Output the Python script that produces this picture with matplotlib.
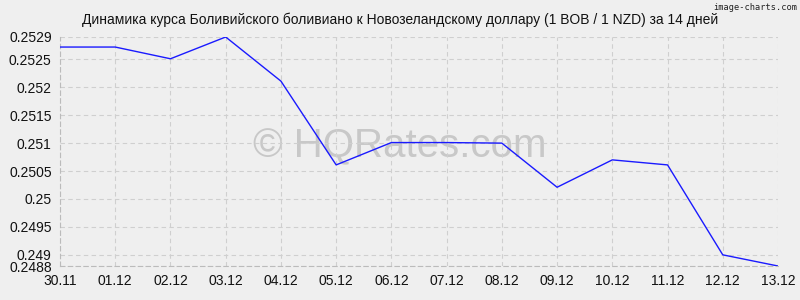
import matplotlib
matplotlib.use("Agg")
import matplotlib.pyplot as plt

plt.rcParams['font.family'] = ['Liberation Sans', 'DejaVu Sans']

dates = ["30.11", "01.12", "02.12", "03.12", "04.12", "05.12", "06.12",
         "07.12", "08.12", "09.12", "10.12", "11.12", "12.12", "13.12"]
rates = [0.25272, 0.25272, 0.25251, 0.2529, 0.25211, 0.25061, 0.25101,
         0.25101, 0.25100, 0.25021, 0.2507, 0.25061, 0.2490, 0.2488]
yticks = [0.2488, 0.249, 0.2495, 0.25, 0.2505, 0.251, 0.2515, 0.252, 0.2525, 0.2529]
ylabels = ["0.2488", "0.249", "0.2495", "0.25", "0.2505", "0.251", "0.2515",
           "0.252", "0.2525", "0.2529"]

bg = "#efefef"
fig = plt.figure(figsize=(8, 3), dpi=100, facecolor=bg)
ax = fig.add_axes([0.075, 0.1133, 0.8975, 0.7634], facecolor=bg)

x = list(range(len(dates)))
ax.plot(x, rates, color="#1a1aff", lw=1.0, zorder=3)

ax.set_xlim(0, len(dates) - 1)
ax.set_ylim(0.2488, 0.2529)
ax.set_xticks(x)
ax.set_xticklabels(dates)
ax.set_yticks(yticks)
ax.set_yticklabels(ylabels)
ax.tick_params(length=0, labelsize=10, pad=6, colors="#111111")
ax.grid(True, color="#cfcfcf", linestyle=(0, (4, 3)), lw=0.8)
for side in ["top", "right"]:
    ax.spines[side].set_visible(False)
for side in ["left", "bottom"]:
    ax.spines[side].set_color("#bbbbbb")
    ax.spines[side].set_linestyle((0, (4, 3)))
    ax.spines[side].set_linewidth(0.8)

# watermark, under the line
ax.text(0.5, 0.513, "© HQRates.com", transform=fig.transFigure, ha="center",
        va="center", fontsize=29, color="#c8c8c8", zorder=1)

fig.text(0.5, 0.935, "Динамика курса Боливийского боливиано к Новозеландскому доллару (1 BOB / 1 NZD) за 14 дней",
         ha="center", va="center", fontsize=10, color="#111111")
fig.text(0.997, 0.99, "image-charts.com", ha="right", va="top",
         fontsize=6.2, family="DejaVu Sans Mono", color="#222222")

fig.savefig("out.png", dpi=100, facecolor=bg)
